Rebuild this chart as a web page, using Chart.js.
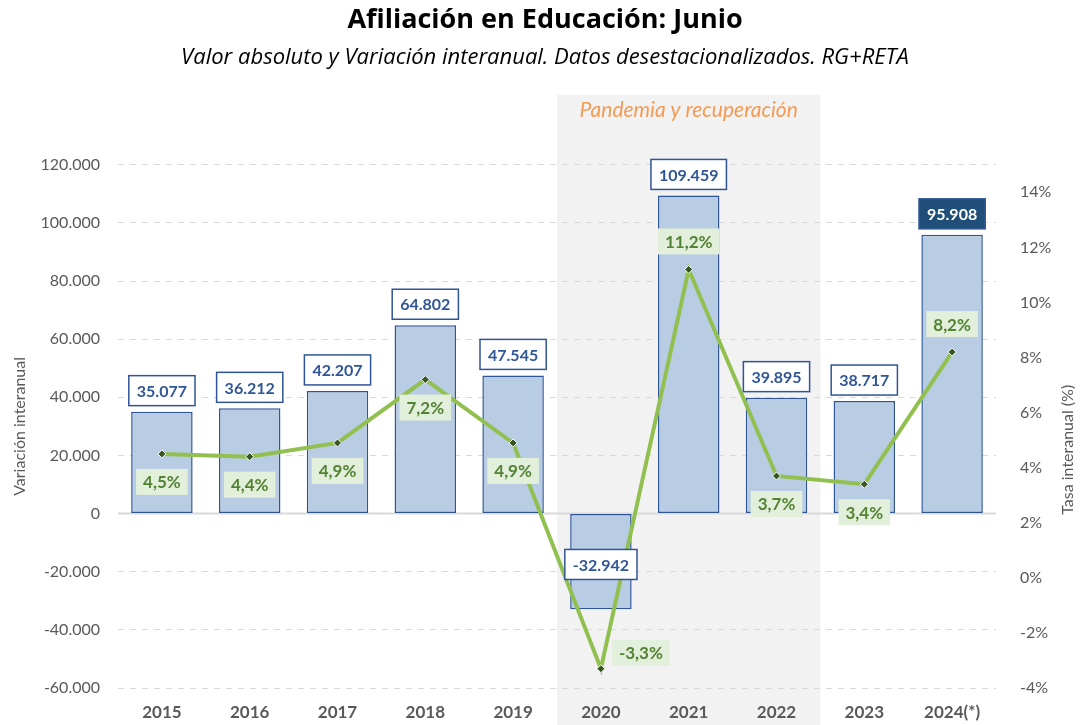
<!DOCTYPE html>
<html>
<head>
<meta charset="utf-8">
<script src="https://cdn.jsdelivr.net/npm/chart.js@4"></script>
<style>
  html, body { margin: 0; padding: 0; background: #fff; }
  #wrap { width: 1090px; height: 725px; }
</style>
</head>
<body>
<div id="wrap"><canvas id="afiliacion"></canvas></div>
<script>
// data
const years = ['2015', '2016', '2017', '2018', '2019', '2020', '2021', '2022', '2023', '2024(*)'];
const variacion = [35077, 36212, 42207, 64802, 47545, -32942, 109459, 39895, 38717, 95908];
const tasa = [4.5, 4.4, 4.9, 7.2, 4.9, -3.3, 11.2, 3.7, 3.4, 8.2];
const leftTicks = [-60000, -40000, -20000, 0, 20000, 40000, 60000, 80000, 100000, 120000];
const rightTicks = [-4, -2, 0, 2, 4, 6, 8, 10, 12, 14];
// where each % label sits relative to its point
const tasaLabelPos = ['below', 'below', 'below', 'below', 'below', 'right', 'above', 'below', 'below', 'above'];
const bandFrom = 5, bandTo = 7; // shaded years 2020-2022

const FONT = 'Lato, "Open Sans", sans-serif';
const HEAD = '"Open Sans", Lato, sans-serif';
const GREY = '#595959';

function miles(v) {
  const s = Math.abs(Math.round(v)).toString().replace(/\B(?=(\d{3})+(?!\d))/g, '.');
  return (v < 0 ? '-' : '') + s;
}
function pct(v) {
  return v.toFixed(1).replace('.', ',') + '%';
}

function box(ctx, cx, cy, text, opt) {
  ctx.font = opt.font;
  const w = ctx.measureText(text).width + opt.padX * 2;
  const h = opt.h;
  ctx.fillStyle = opt.fill;
  ctx.fillRect(cx - w / 2, cy - h / 2, w, h);
  if (opt.stroke) {
    ctx.lineWidth = 1.5;
    ctx.strokeStyle = opt.stroke;
    ctx.strokeRect(cx - w / 2, cy - h / 2, w, h);
  }
  ctx.fillStyle = opt.color;
  ctx.textAlign = 'center';
  ctx.textBaseline = 'middle';
  ctx.fillText(text, cx, cy + 1);
}

const decor = {
  id: 'decor',
  beforeDraw(chart) {
    const ctx = chart.ctx, x = chart.scales.x, area = chart.chartArea;
    const step = x.getPixelForValue(1) - x.getPixelForValue(0);
    const x0 = x.getPixelForValue(bandFrom) - step / 2;
    const x1 = x.getPixelForValue(bandTo) + step / 2;
    ctx.save();
    ctx.fillStyle = '#f2f2f2';
    ctx.fillRect(x0, area.top - 70, x1 - x0, chart.height - (area.top - 70));
    ctx.fillStyle = '#f49a52';
    ctx.font = 'italic 21px ' + FONT;
    ctx.textAlign = 'center';
    ctx.textBaseline = 'middle';
    ctx.fillText('Pandemia y recuperación', (x0 + x1) / 2, area.top - 55);
    // right axis title, reading upwards
    ctx.translate(chart.width - 22, area.top + 285);
    ctx.rotate(-Math.PI / 2);
    ctx.fillStyle = GREY;
    ctx.font = '16px ' + FONT;
    ctx.fillText('Tasa interanual (%)', 0, 0);
    ctx.restore();
  },
  beforeDatasetsDraw(chart) {
    const ctx = chart.ctx, area = chart.chartArea;
    const y0 = chart.scales.y.getPixelForValue(0);
    ctx.save();
    ctx.strokeStyle = '#d9d9d9';
    ctx.lineWidth = 2;
    ctx.beginPath();
    ctx.moveTo(area.left, y0);
    ctx.lineTo(area.right, y0);
    ctx.stroke();
    ctx.restore();
  },
  afterDatasetsDraw(chart) {
    const ctx = chart.ctx;
    const y = chart.scales.y;
    const bars = chart.getDatasetMeta(0).data;
    const pts = chart.getDatasetMeta(1).data;
    ctx.save();
    bars.forEach((b, i) => {
      const v = variacion[i];
      const last = i === bars.length - 1;
      const cy = v < 0 ? (b.y + y.getPixelForValue(0)) / 2 + 3 : b.y - 21;
      box(ctx, b.x, cy, miles(v), {
        font: 'bold 16px ' + FONT, padX: 8, h: 30,
        fill: last ? '#1f4e79' : '#ffffff',
        stroke: '#2f5597',
        color: last ? '#ffffff' : '#2f5597'
      });
    });
    pts.forEach((p, i) => {
      let cx = p.x, cy = p.y;
      if (tasaLabelPos[i] === 'below') cy += 28;
      else if (tasaLabelPos[i] === 'above') cy -= 28;
      else { cx += 40; cy -= 16; }
      box(ctx, cx, cy, pct(tasa[i]), {
        font: 'bold 17px ' + FONT, padX: 7, h: 26,
        fill: '#e2efda', color: '#548235'
      });
    });
    ctx.restore();
  }
};

new Chart(document.getElementById('afiliacion'), {
  data: {
    labels: years,
    datasets: [{
      type: 'bar',
      label: 'Variación interanual',
      data: variacion,
      yAxisID: 'y',
      backgroundColor: '#b8cce4',
      borderColor: '#2f5597',
      borderWidth: 1.5,
      borderSkipped: false,
      barPercentage: 0.7,
      categoryPercentage: 1,
      order: 1
    }, {
      type: 'line',
      label: 'Tasa interanual (%)',
      data: tasa,
      yAxisID: 'y1',
      borderColor: '#92c050',
      borderWidth: 4,
      tension: 0,
      pointStyle: 'rectRot',
      pointRadius: 4,
      pointBackgroundColor: '#375623',
      pointBorderColor: '#ffffff',
      pointBorderWidth: 1,
      order: 0
    }]
  },
  options: {
    responsive: true,
    maintainAspectRatio: false,
    animation: false,
    layout: { padding: 0 },
    plugins: {
      legend: { display: false },
      tooltip: { enabled: false },
      title: {
        display: true,
        text: 'Afiliación en Educación: Junio',
        color: '#000',
        font: { family: HEAD, size: 27, weight: 'bold' },
        padding: { top: 4, bottom: 8 }
      },
      subtitle: {
        display: true,
        text: 'Valor absoluto y Variación interanual. Datos desestacionalizados. RG+RETA',
        color: '#000',
        font: { family: HEAD, size: 22, style: 'italic' },
        padding: { top: 0, bottom: 94 }
      }
    },
    scales: {
      x: {
        grid: { display: false, drawTicks: false },
        border: { display: false },
        ticks: { color: GREY, padding: 14, font: { family: FONT, size: 17, weight: 'bold' } },
        afterFit(s) { s.height = 37; }
      },
      y: {
        position: 'left',
        min: leftTicks[0],
        max: leftTicks[leftTicks.length - 1],
        afterBuildTicks(s) { s.ticks = leftTicks.map(v => ({ value: v })); },
        grid: { color: '#d9d9d9', lineWidth: 1, drawTicks: false },
        border: { display: false, dash: [6, 6] },
        ticks: { color: GREY, padding: 18, font: { family: FONT, size: 16 }, callback: v => miles(v) },
        title: { display: true, text: 'Variación interanual', color: GREY, font: { family: FONT, size: 16 }, padding: { top: 10, bottom: 0 } },
        afterFit(s) { s.width = 118; }
      },
      y1: {
        position: 'right',
        min: -4,
        max: 15,
        afterBuildTicks(s) { s.ticks = rightTicks.map(v => ({ value: v })); },
        grid: { display: false, drawTicks: false },
        border: { display: false },
        ticks: { color: GREY, padding: 24, font: { family: FONT, size: 16 }, callback: v => v + '%' },
        afterFit(s) { s.width = 94; }
      }
    }
  },
  plugins: [decor]
});
</script>
</body>
</html>
